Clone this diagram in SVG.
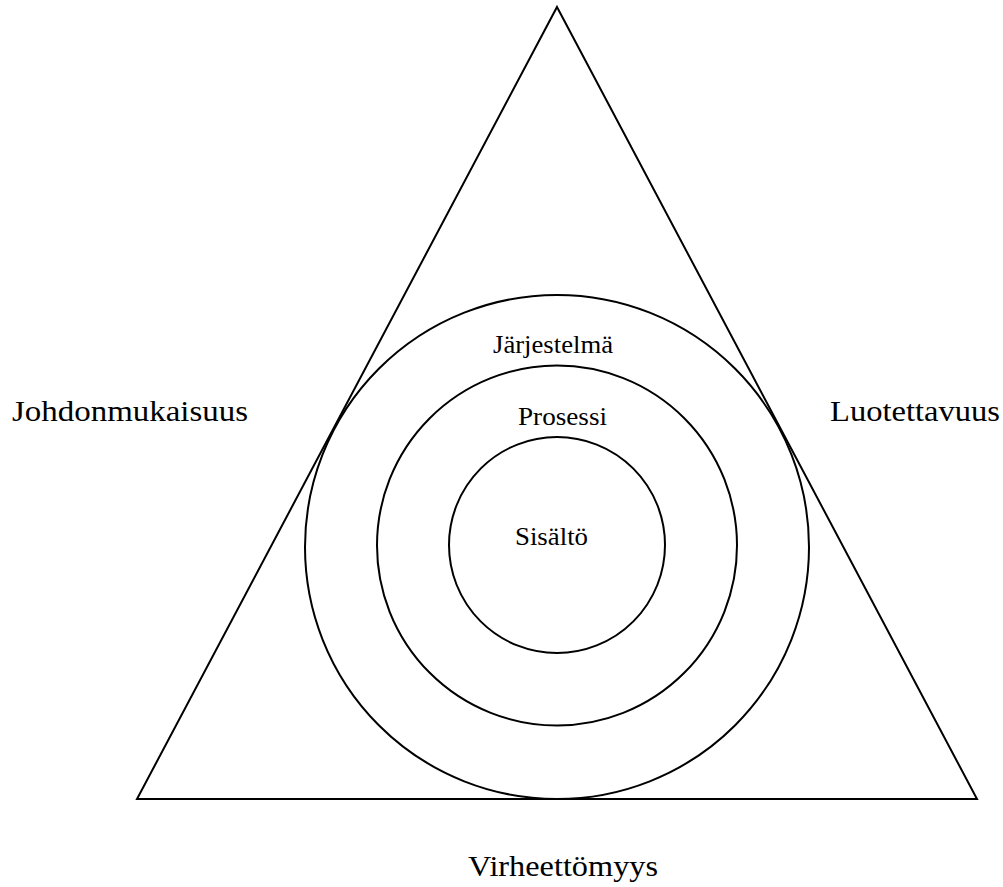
<svg xmlns="http://www.w3.org/2000/svg" width="1003" height="887" viewBox="0 0 1003 887">
  <style>
    .shape { fill: none; stroke: #000; stroke-width: 2; }
    .big { font-family: "Liberation Serif", "DejaVu Serif", serif; font-size: 30px; fill: #000; }
    .small { font-family: "Liberation Serif", "DejaVu Serif", serif; font-size: 26px; fill: #000; }
  </style>
  <rect width="1003" height="887" fill="#fff"/>
  <g id="triangle">
    <polygon class="shape" points="557,7 977,799 137,799"/>
  </g>
  <g id="circles">
    <circle id="jarjestelma-ring" class="shape" cx="557" cy="547" r="252"/>
    <circle id="prosessi-ring" class="shape" cx="557" cy="545.5" r="180"/>
    <circle id="sisalto-ring" class="shape" cx="557" cy="545" r="108"/>
  </g>
  <g id="labels">
    <text class="big" x="12" y="421" textLength="236" lengthAdjust="spacingAndGlyphs">Johdonmukaisuus</text>
    <text class="big" x="830" y="421" textLength="170" lengthAdjust="spacingAndGlyphs">Luotettavuus</text>
    <text class="big" x="468" y="876" textLength="190" lengthAdjust="spacingAndGlyphs">Virheettömyys</text>
    <text class="small" x="493" y="353" textLength="120" lengthAdjust="spacingAndGlyphs">Järjestelmä</text>
    <text class="small" x="518" y="425" textLength="89" lengthAdjust="spacingAndGlyphs">Prosessi</text>
    <text class="small" x="515" y="545" textLength="73" lengthAdjust="spacingAndGlyphs">Sisältö</text>
  </g>
</svg>
